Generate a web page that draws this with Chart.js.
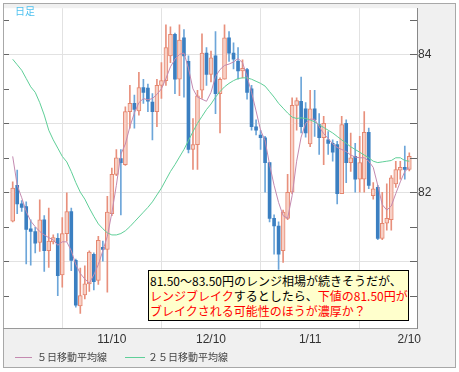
<!DOCTYPE html>
<html><head><meta charset="utf-8">
<script src="https://cdn.jsdelivr.net/npm/chart.js@4.4.1/dist/chart.umd.min.js"></script>
<style>
html,body{margin:0;padding:0;background:#fff;}
#wrap{position:relative;width:459px;height:372px;overflow:hidden;}
#wrap canvas{position:absolute;left:0;top:0;}
.abs{position:absolute;white-space:nowrap;}
#note{left:148px;top:270px;width:261px;height:51px;box-sizing:border-box;border:1px solid #000;background:#ffffcc;
  font:12px/15px "Noto Sans CJK JP",sans-serif;color:#000;padding:2px 0 0 1px;}
#note .r{color:#ff0000;}
.lgt{font:10px/12px "Noto Sans CJK JP",sans-serif;color:#444;top:351px;}
.lgl{height:1px;top:357px;}
#ashi{left:15px;top:5px;font:10px/12px "Noto Sans CJK JP",sans-serif;color:#4fc1ef;}
</style>
</head><body>
<div id="wrap">
<canvas id="c" width="459" height="372"></canvas>
<div id="ashi" class="abs">日足</div>
<div id="note" class="abs">81.50～83.50円のレンジ相場が続きそうだが、<br><span class="r">レンジブレイク</span>するとしたら、<span class="r">下値の81.50円が</span><br><span class="r">ブレイクされる可能性のほうが濃厚か？</span></div>
<div class="abs lgl" style="left:15px;width:17px;background:#c48ab0"></div>
<div class="abs lgt" style="left:37px">５日移動平均線</div>
<div class="abs lgl" style="left:125px;width:20px;background:#5fcf98"></div>
<div class="abs lgt" style="left:148px">２５日移動平均線</div>
</div>
<script>
const dates = [
"10/11","10/12","10/13","10/14","10/15","10/18","10/19","10/20","10/21","10/22","10/25","10/26","10/27","10/28","10/29",
"11/1","11/2","11/3","11/4","11/5","11/8","11/9","11/10","11/11","11/12","11/15","11/16","11/17","11/18","11/19","11/22","11/23","11/24","11/25","11/26","11/29","11/30",
"12/1","12/2","12/3","12/6","12/7","12/8","12/9","12/10","12/13","12/14","12/15","12/16","12/17","12/20","12/21","12/22","12/23","12/24","12/27","12/28","12/29","12/30","12/31",
"1/3","1/4","1/5","1/6","1/7","1/10","1/11","1/12","1/13","1/14","1/17","1/18","1/19","1/20","1/21","1/24","1/25","1/26","1/27","1/28","1/31",
"2/1","2/2","2/3","2/4","2/7","2/8","2/9","2/10"];

const open = [81.58,82.10,81.83,81.79,81.47,81.43,81.27,81.60,81.15,81.28,81.33,80.80,81.40,81.72,81.01,80.35,80.51,80.67,81.10,80.72,
81.20,81.17,81.69,82.26,82.49,82.40,83.17,83.29,83.18,83.52,83.51,83.31,83.17,83.55,83.62,83.98,84.29,83.64,84.24,83.90,
82.62,82.69,83.48,84.02,83.71,83.98,83.43,83.64,84.24,84.02,83.90,83.76,83.78,83.50,82.95,82.83,82.79,82.43,81.62,81.51,
81.15,81.62,82.00,83.26,83.32,83.21,82.70,83.21,82.98,82.79,82.76,82.71,82.69,81.98,83.00,82.43,82.52,82.19,82.19,82.87,
81.95,82.07,81.33,81.55,81.60,82.12,82.32,82.36,82.33];
const high = [82.15,82.32,81.88,81.86,81.60,81.49,81.89,81.66,81.77,81.38,81.40,81.63,81.99,81.77,81.03,80.90,80.93,81.15,81.12,81.36,
81.29,81.94,82.35,82.62,82.62,83.24,83.55,83.41,83.74,83.64,83.57,83.43,83.64,83.88,84.43,84.40,84.31,84.43,84.36,83.98,
83.07,83.48,84.30,84.10,84.05,84.33,83.66,84.43,84.33,84.17,84.10,83.92,83.80,83.55,83.05,82.90,82.81,82.43,81.67,81.57,
81.74,82.26,83.37,83.37,83.67,83.30,83.48,83.48,83.14,83.10,82.88,82.76,82.74,83.10,83.05,82.86,82.71,82.81,83.17,82.93,
82.14,82.10,82.00,82.12,82.24,82.45,82.45,82.67,82.57];
const low = [81.57,81.69,81.72,80.96,80.94,81.12,81.14,80.85,80.91,81.25,80.50,80.62,81.29,80.86,80.33,80.24,80.45,80.56,80.58,80.66,
81.00,80.55,81.66,82.24,81.67,82.39,82.93,82.93,83.12,83.29,83.17,82.76,82.95,83.36,83.55,83.88,83.43,83.40,83.38,82.57,
82.33,82.33,83.36,83.55,83.60,83.14,82.86,83.64,83.90,83.79,83.64,83.66,83.35,82.90,82.83,82.62,82.00,81.57,81.10,80.88,
80.98,81.60,81.98,82.90,82.86,82.80,82.66,82.81,82.55,82.40,82.55,82.45,81.83,81.98,82.14,82.30,82.00,82.00,82.00,82.05,
81.90,81.31,81.31,81.45,81.45,82.07,82.19,82.19,82.31];
const close = [82.06,81.83,81.78,81.46,81.43,81.26,81.60,81.15,81.29,81.34,80.79,81.40,81.72,81.01,80.36,80.50,80.67,81.13,80.70,81.30,
81.17,81.71,82.26,82.50,82.43,83.17,83.29,83.20,83.52,83.45,83.32,83.17,83.55,83.62,84.10,84.29,83.64,84.21,83.98,82.62,
82.69,83.40,84.02,83.71,83.95,83.43,83.64,84.24,84.02,83.93,83.76,83.80,83.45,82.95,82.90,82.79,82.43,81.62,81.51,81.10,
81.71,82.00,83.26,83.33,82.95,82.86,83.21,83.05,82.79,83.00,82.71,82.58,81.98,82.98,82.43,82.50,82.19,82.43,82.87,82.10,
82.05,81.33,81.55,81.62,82.21,82.33,82.36,82.33,82.52];

const ma5 = [82.52,82.10,81.92,81.72,81.58,81.50,81.43,81.38,81.34,81.31,81.23,81.28,81.28,81.15,80.95,80.82,80.74,80.68,80.80,80.95,
81.15,81.36,81.70,82.10,82.55,82.70,82.95,83.15,83.30,83.36,83.34,83.36,83.42,83.50,83.65,83.82,83.93,84.00,84.02,83.80,
83.50,83.38,83.35,83.32,83.45,83.68,83.78,83.84,83.86,83.89,83.94,83.88,83.68,83.45,83.18,82.90,82.75,82.40,82.10,81.85,
81.66,81.62,81.95,82.45,82.80,83.00,83.06,83.06,82.95,82.85,82.78,82.70,82.65,82.62,82.59,82.54,82.51,82.50,82.50,82.45,
82.36,82.10,81.82,81.74,81.80,81.98,82.15,82.30,82.36];
const ma25 = [83.93,83.85,83.77,83.65,83.53,83.45,83.30,83.12,82.90,82.76,82.64,82.52,82.44,82.30,82.14,82.00,81.90,81.77,81.65,81.54,
81.47,81.41,81.38,81.38,81.40,81.44,81.50,81.57,81.64,81.71,81.78,81.86,81.96,82.06,82.18,82.30,82.40,82.51,82.62,82.75,
82.88,83.00,83.10,83.20,83.28,83.38,83.46,83.53,83.58,83.62,83.65,83.66,83.66,83.64,83.61,83.58,83.54,83.46,83.38,83.29,
83.22,83.15,83.09,83.07,83.08,83.07,83.05,83.02,82.98,82.94,82.90,82.86,82.81,82.76,82.71,82.66,82.62,82.58,82.54,82.50,
82.45,82.43,82.44,82.45,82.46,82.50,82.50,82.46,82.45];

const tickDates = ["10/11","11/10","12/10","1/11","2/10"];
const tickLabels = ["","11/10","12/10","1/11","2/10"];
const yTickValues = [80.5,81,81.5,82,82.5,83,83.5,84,84.5];
const yLabelValues = [82,84];

const idx = dates.map((d,i)=>i);
const isUp = idx.map(i=>close[i]>=open[i]);

const framePlugin = {
  id:'frame',
  beforeDraw(chart){
    const {ctx, chartArea:a} = chart;
    ctx.save();
    ctx.fillStyle='#fff'; ctx.fillRect(0,0,chart.width,chart.height);
    ctx.fillStyle='#f0f0f0'; ctx.fillRect(3,3,452,364);
    ctx.fillStyle='#fff'; ctx.fillRect(a.left,a.top,a.right-a.left,a.bottom-a.top);
    ctx.strokeStyle='#a8a8a8'; ctx.lineWidth=1; ctx.strokeRect(3.5,3.5,452,364);
    ctx.restore();
  },
  afterDraw(chart){
    const {ctx, chartArea:a} = chart;
    const ys = chart.scales.y;
    ctx.save();
    ctx.strokeStyle='#666'; ctx.lineWidth=1;
    ctx.beginPath();
    yTickValues.forEach(v=>{
      const p = Math.round(ys.getPixelForValue(v))+0.5;
      ctx.moveTo(a.left, p); ctx.lineTo(a.left+6, p);
      ctx.moveTo(a.right-7, p); ctx.lineTo(a.right, p);
    });
    ctx.stroke();
    ctx.strokeStyle='#a8a8a8';
    ctx.beginPath(); ctx.moveTo(3.5,3); ctx.lineTo(3.5,a.bottom); ctx.stroke();
    ctx.restore();
  }
};

new Chart(document.getElementById('c'), {
  type:'bar',
  data:{
    datasets:[
      {type:'line', label:'５日移動平均線', data: idx.map(i=>({x:i,y:ma5[i]})), borderColor:'#c48ab0', borderWidth:1, pointRadius:0, tension:0, order:0},
      {type:'line', label:'２５日移動平均線', data: idx.map(i=>({x:i,y:ma25[i]})), borderColor:'#5fcf98', borderWidth:1, pointRadius:0, tension:0, order:0},
      {label:'up', data: idx.filter(i=>isUp[i]).map(i=>({x:i,y:[open[i],close[i]]})), backgroundColor:'#f8d0c5', borderColor:'#e5866f', borderWidth:1, borderSkipped:false, barThickness:4, grouped:false, order:1},
      {label:'down', data: idx.filter(i=>!isUp[i]).map(i=>({x:i,y:[open[i],close[i]]})), backgroundColor:'#3b7fc1', borderColor:'#3b7fc1', borderWidth:0, borderSkipped:false, barThickness:3, grouped:false, order:1},
      {label:'wick', data: idx.map(i=>({x:i,y:[low[i],high[i]]})), backgroundColor: idx.map(i=>isUp[i]?'#e8907c':'#6da6d9'), borderWidth:0, barThickness:1, grouped:false, order:2}
    ]
  },
  options:{
    responsive:false, animation:false, devicePixelRatio:1, events:[],
    layout:{padding:{left:3,top:3,right:0,bottom:0}},
    plugins:{legend:{display:false}, tooltip:{enabled:false}},
    scales:{
      x:{type:'linear', min:-2.152, max:89.708, offset:false,
        afterBuildTicks:s=>{ s.ticks = tickDates.map(d=>({value:dates.indexOf(d)})); },
        afterFit:s=>{ s.height=44; },
        ticks:{callback:(v,i)=>tickLabels[i], autoSkip:false, maxRotation:0, padding:4, color:'#333', font:{size:12, family:'"Liberation Sans", Arial, sans-serif'}},
        grid:{color:'#e2e2e2', drawTicks:false},
        border:{color:'#999'}
      },
      y:{type:'linear', position:'right', min:80.029, max:84.671,
        afterBuildTicks:s=>{ s.ticks = yTickValues.map(v=>({value:v})); },
        afterFit:s=>{ s.width=42; },
        ticks:{callback:v=>yLabelValues.includes(v)?String(v):'', padding:1, color:'#333', font:{size:12, family:'"Liberation Sans", Arial, sans-serif'}},
        grid:{color:c=>(c.tick && Number.isInteger(c.tick.value))?'#e2e2e2':'rgba(0,0,0,0)', drawTicks:false},
        border:{color:'#888'}
      }
    }
  },
  plugins:[framePlugin]
});
</script>
</body></html>
